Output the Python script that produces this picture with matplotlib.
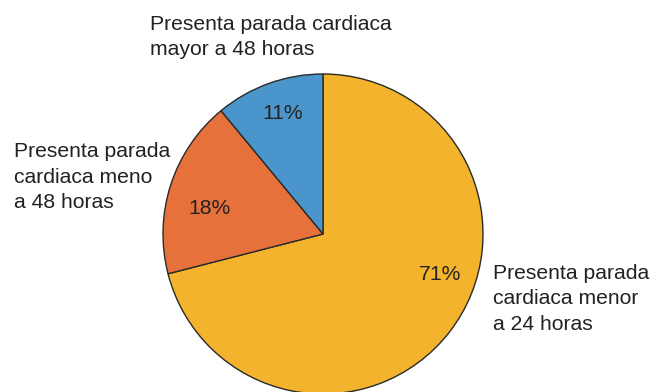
import matplotlib
matplotlib.use('Agg')
import matplotlib.pyplot as plt

# wedge data, clockwise from 12 o'clock
labels = ['Presenta parada\ncardiaca menor\na 24 horas',
          'Presenta parada\ncardiaca meno\na 48 horas',
          'Presenta parada cardiaca\nmayor a 48 horas']
values = [71, 18, 11]
colors = ['#F4B32D', '#E7713B', '#4A95CB']

plt.rcParams['font.family'] = ['Liberation Sans', 'DejaVu Sans']

W, H = 653, 392
fig = plt.figure(figsize=(W / 100, H / 100), dpi=100)
ax = fig.add_axes([0, 0, 1, 1])

cx, cy, r = 323, H - 234, 160
ax.pie(values, colors=colors, startangle=90, counterclock=False,
       center=(cx, cy), radius=r, frame=True,
       wedgeprops=dict(edgecolor='#2a2a2a', linewidth=1.0))
ax.set_xlim(0, W)
ax.set_ylim(0, H)
ax.axis('off')

txt = '#222222'
fs = 15.2
# percentage labels inside wedges
pct_pos = [(440, 275), (210, 208), (283, 113)]
for v, (px, py) in zip(values, pct_pos):
    ax.text(px, H - py, f'{v}%', ha='center', va='center', fontsize=fs, color=txt)

# category labels outside the pie
lab_pos = [(493, 299), (14, 177), (150, 37)]
for lab, (px, py) in zip(labels, lab_pos):
    ax.text(px, H - py, lab, ha='left', va='center', fontsize=fs, color=txt,
            linespacing=1.42)

fig.savefig('out.png', dpi=100)
